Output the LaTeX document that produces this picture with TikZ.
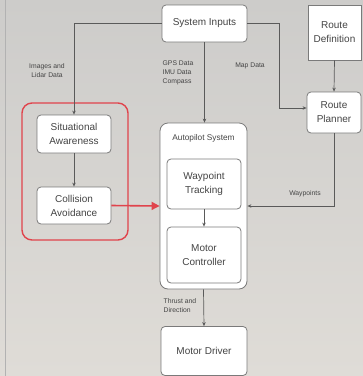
\documentclass[tikz,border=0pt]{standalone}
\usepackage{fontspec}
\setmainfont{Liberation Sans}
\usetikzlibrary{arrows.meta}
\definecolor{bgtop}{HTML}{CDCCCA}
\definecolor{bgbot}{HTML}{DFDCD7}
\definecolor{edge}{HTML}{7A7A7A}
\definecolor{lineg}{HTML}{5A5A5A}
\definecolor{redc}{HTML}{E0444C}
\definecolor{txt}{HTML}{444444}
\tikzset{
  box/.style={draw=edge, fill=white, rounded corners=4pt, line width=0.8pt, align=center,
    inner sep=0pt, font=\fontsize{10}{14}\selectfont, text=txt},
  lbl/.style={font=\fontsize{6.8}{9}\selectfont, text=txt, align=center, inner sep=0pt},
  arr/.style={draw=lineg, line width=0.7pt, -{Stealth[length=4pt,width=3.5pt]}},
}
\begin{document}
\begin{tikzpicture}[x=1pt,y=-1pt]
\shade[top color=bgtop, bottom color=bgbot] (0,0) rectangle (363,376);
\useasboundingbox (0,0) rectangle (363,376);
\draw[color=black!30, line width=0.6pt] (5,0) -- (5,376);
% red group
\node[draw=redc, line width=1.4pt, rounded corners=10pt, minimum width=106pt, minimum height=137pt, inner sep=0pt] (grp) at (75,171.5) {};
% autopilot
\node[box, rounded corners=8pt, minimum width=87pt, minimum height=166pt] (auto) at (203.5,206) {};
\node[lbl, font=\fontsize{8.3}{10}\selectfont] (autol) at (203.5,138) {Autopilot System};
% boxes
\node[box, minimum width=85pt, minimum height=37pt] (sysin) at (204.5,23.5) {System Inputs};
\node[box, rounded corners=0pt, minimum width=53pt, minimum height=55pt] (rd) at (334.5,32.5) {Route\\Definition};
\node[box, minimum width=54pt, minimum height=41pt] (rp) at (334,112.5) {Route\\Planner};
\node[box, minimum width=74pt, minimum height=38pt] (sa) at (74,134) {Situational\\Awareness};
\node[box, minimum width=74pt, minimum height=37pt] (ca) at (74,205.5) {Collision\\Avoidance};
\node[box, minimum width=74pt, minimum height=50pt] (wt) at (204,184) {Waypoint\\Tracking};
\node[box, minimum width=74pt, minimum height=56pt] (mc) at (204,255) {Motor\\Controller};
\node[box, minimum width=86pt, minimum height=49pt] (md) at (204,351) {Motor Driver};
% connectors
\coordinate (mapbend) at (279,108);
\draw[arr] (sysin.west) -| (sa.north);
\draw[arr] (sysin.south) -- (sysin.south |- auto.north);
\draw[arr] (sysin.east) -| (mapbend) -- (mapbend -| rp.west);
\draw[arr] (rd.south) -- (rp.north);
\draw[arr] (rp.south) |- (auto.east);
\draw[arr] (sa.south) -- (ca.north);
\draw[arr] (wt.south) -- (mc.north);
\draw[arr] (auto.south) -- (md.north);
\draw[draw=redc, line width=1.6pt, -{Triangle[length=8pt,width=8pt]}] (ca.east) -- (auto.west);
% labels
\node[lbl] (l1) at (47,71) {Images and\\Lidar Data};
\node[lbl, align=left] (l2) at (178,73) {GPS Data\\IMU Data\\Compass};
\node[lbl] (l3) at (250,66) {Map Data};
\node[lbl] (l4) at (305,194) {Waypoints};
\node[lbl, align=left] (l5) at (180,306) {Thrust and\\Direction};
\end{tikzpicture}
\end{document}
